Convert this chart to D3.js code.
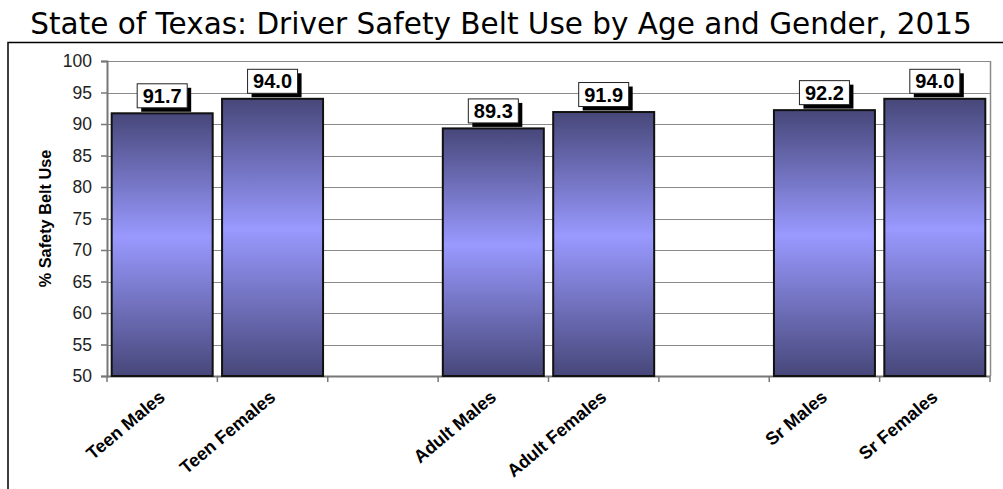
<!DOCTYPE html>
<html lang="en">
<head>
  <meta charset="UTF-8">
  <title>State of Texas: Driver Safety Belt Use by Age and Gender, 2015</title>
  <script src="https://cdn.jsdelivr.net/npm/d3@7"></script>
  <style>
    body { margin: 0; background: #fff; }
    .axis text { font-family: "Liberation Sans", Arial, sans-serif; }
  </style>
</head>
<body>
  <svg width="1003" height="489"></svg>

  <script>
    // chart data
    var categories = ["Teen Males", "Teen Females", "", "Adult Males", "Adult Females", "", "Sr Males", "Sr Females"];
    var values = [91.7, 94.0, null, 89.3, 91.9, null, 92.2, 94.0];
    var yTicks = [50, 55, 60, 65, 70, 75, 80, 85, 90, 95, 100];

    var svg = d3.select("svg"),
      pLeft = 107, pRight = 990, pTop = 61, pBottom = 376;

    // outer frame (only top and left are visible in the picture)
    svg.append("path")
      .attr("d", "M8,489 L8,42.5 L1003,42.5")
      .attr("fill", "none")
      .attr("stroke", "#000")
      .attr("stroke-width", 1.5);

    svg.append("text")
      .attr("x", 501)
      .attr("y", 34)
      .attr("text-anchor", "middle")
      .style("font-family", "DejaVu Sans, Verdana, sans-serif")
      .style("font-size", "29.5px")
      .text("State of Texas: Driver Safety Belt Use by Age and Gender, 2015");

    var x = d3.scaleBand()
      .domain(d3.range(categories.length))
      .range([pLeft, pRight])
      .paddingInner(0.085)
      .paddingOuter(0.0425);

    var y = d3.scaleLinear().domain([50, 100]).range([pBottom, pTop]);

    // gradient for bars: dark at the ends, light in the middle
    var grad = svg.append("defs").append("linearGradient")
      .attr("id", "barGrad")
      .attr("x1", 0).attr("y1", 0).attr("x2", 0).attr("y2", 1);
    grad.append("stop").attr("offset", "0%").attr("stop-color", "#47477a");
    grad.append("stop").attr("offset", "47%").attr("stop-color", "#9999ff");
    grad.append("stop").attr("offset", "100%").attr("stop-color", "#47477a");

    // gridlines
    svg.append("g")
      .selectAll("line")
      .data(yTicks.slice(1))
      .enter().append("line")
      .attr("x1", pLeft).attr("x2", pRight)
      .attr("y1", function (d) { return Math.round(y(d)) + 0.5; })
      .attr("y2", function (d) { return Math.round(y(d)) + 0.5; })
      .attr("stroke", "#8a8a8a")
      .attr("stroke-width", 1.2);

    // right border of plot area
    svg.append("line")
      .attr("x1", pRight + 0.5).attr("x2", pRight + 0.5)
      .attr("y1", pTop).attr("y2", pBottom)
      .attr("stroke", "#8a8a8a")
      .attr("stroke-width", 1.5);

    // y axis
    var yAxis = svg.append("g")
      .attr("class", "axis")
      .attr("transform", "translate(" + pLeft + ",0)")
      .call(d3.axisLeft(y).tickValues(yTicks).tickSize(6).tickPadding(9));
    yAxis.select(".domain").attr("stroke", "#777").attr("stroke-width", 2);
    yAxis.selectAll(".tick line").attr("stroke", "#777").attr("stroke-width", 1.5);
    yAxis.selectAll("text").style("font-size", "17.5px").attr("fill", "#222");

    // x axis ticks at category boundaries
    var xTicks = d3.range(categories.length + 1).map(function (i) {
      return pLeft + i * (pRight - pLeft) / categories.length;
    });
    svg.append("line")
      .attr("x1", pLeft).attr("x2", pRight)
      .attr("y1", pBottom + 0.5).attr("y2", pBottom + 0.5)
      .attr("stroke", "#777").attr("stroke-width", 2);
    svg.append("g")
      .selectAll("line")
      .data(xTicks)
      .enter().append("line")
      .attr("x1", function (d) { return d; }).attr("x2", function (d) { return d; })
      .attr("y1", pBottom).attr("y2", pBottom + 6)
      .attr("stroke", "#777").attr("stroke-width", 1.5);

    // bars
    var idx = d3.range(categories.length).filter(function (i) { return values[i] != null; });

    svg.append("g")
      .selectAll("rect")
      .data(idx)
      .enter().append("rect")
      .attr("x", function (i) { return x(i); })
      .attr("y", function (i) { return y(values[i]); })
      .attr("width", x.bandwidth())
      .attr("height", function (i) { return pBottom - y(values[i]); })
      .attr("fill", "url(#barGrad)")
      .attr("stroke", "#111")
      .attr("stroke-width", 2);

    // data labels: white box, black outline, black drop shadow
    var lab = svg.append("g")
      .selectAll("g")
      .data(idx)
      .enter().append("g")
      .attr("transform", function (i) {
        return "translate(" + (x(i) + x.bandwidth() / 2) + "," + (y(values[i]) - 17.5) + ")";
      });
    lab.append("rect")
      .attr("x", -21).attr("y", -8).attr("width", 50).attr("height", 24)
      .attr("fill", "#000");
    lab.append("rect")
      .attr("x", -25).attr("y", -12).attr("width", 50).attr("height", 24)
      .attr("fill", "#fff").attr("stroke", "#222").attr("stroke-width", 1);
    lab.append("text")
      .attr("y", 7)
      .attr("text-anchor", "middle")
      .style("font-family", "Liberation Sans, Arial, sans-serif")
      .style("font-weight", "bold")
      .style("font-size", "20px")
      .text(function (i) { return values[i].toFixed(1); });

    // x category labels, rotated
    svg.append("g")
      .selectAll("text")
      .data(idx)
      .enter().append("text")
      .attr("transform", function (i) {
        return "translate(" + (x(i) + x.bandwidth() / 2 + 4) + "," + (pBottom + 23) + ") rotate(-40)";
      })
      .attr("text-anchor", "end")
      .style("font-family", "Liberation Sans, Arial, sans-serif")
      .style("font-weight", "bold")
      .style("font-size", "18px")
      .text(function (i) { return categories[i]; });

    // y axis title
    svg.append("text")
      .attr("transform", "translate(51," + ((pTop + pBottom) / 2) + ") rotate(-90)")
      .attr("text-anchor", "middle")
      .style("font-family", "Liberation Sans, Arial, sans-serif")
      .style("font-weight", "bold")
      .style("font-size", "16.3px")
      .text("% Safety Belt Use");
  </script>
</body>
</html>
